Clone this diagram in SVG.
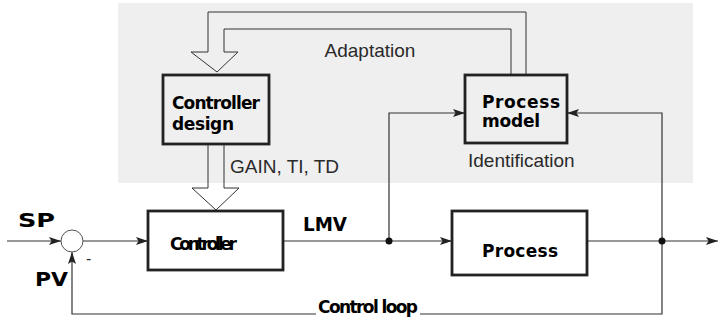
<svg xmlns="http://www.w3.org/2000/svg" width="719" height="320" viewBox="0 0 719 320">
<style>
.lbl{font-family:"Liberation Sans",Arial,sans-serif;font-size:19px;fill:#2a2a2a}
.bx{font-family:"DejaVu Sans",sans-serif;font-weight:bold;font-size:17px;fill:#000}
.box{fill:none;stroke:#222;stroke-width:2.8}
.ln{fill:none;stroke:#333;stroke-width:1.2}
.hol{fill:none;stroke:#333;stroke-width:1}
</style>
<defs>
<marker id="ah" viewBox="0 0 12 8" refX="12" refY="4" markerWidth="12" markerHeight="8" markerUnits="userSpaceOnUse" orient="auto">
<path d="M0,0 L12,4 L0,8 L2.5,4 z" fill="#222"/>
</marker>
</defs>
<rect x="118" y="3" width="575" height="180" fill="#efefef"/>
<g id="connectors">
<path class="hol" d="M526,74 V12 H208 V52 H191 L217,72 L238,52 H224 V29 H511 V74"/>
<path class="hol" d="M208,144 V188 H192 L216,210 L239,188 H224 V144"/>
<path class="ln" d="M7,241 H61" marker-end="url(#ah)"/>
<path class="ln" d="M83,241 H148" marker-end="url(#ah)"/>
<path class="ln" d="M283,241 H452" marker-end="url(#ah)"/>
<path class="ln" d="M587,241 H718" marker-end="url(#ah)"/>
<path class="ln" d="M389,241 V113 H465" marker-end="url(#ah)"/>
<path class="ln" d="M662,241 V113 H567" marker-end="url(#ah)"/>
<path class="ln" d="M662,241 V314 H420"/>
<path class="ln" d="M316,314 H72 V252" marker-end="url(#ah)"/>
<circle cx="389" cy="241" r="3.5" fill="#111"/>
<circle cx="662" cy="241" r="3.5" fill="#111"/>
</g>
<g id="sum">
<circle cx="72" cy="241" r="11" fill="#fff" stroke="#555" stroke-width="1"/>
<text class="lbl" x="86" y="264" style="font-size:16px">-</text>
</g>
<g id="controller-design">
<rect class="box" x="163" y="75" width="106" height="69" fill="none"/>
<text class="bx" x="172" y="109" textLength="88" lengthAdjust="spacing">Controller</text>
<text class="bx" x="172" y="130" textLength="62" lengthAdjust="spacing">design</text>
</g>
<g id="process-model">
<rect class="box" x="465" y="75" width="102" height="68"/>
<text class="bx" x="482" y="108" textLength="78" lengthAdjust="spacing">Process</text>
<text class="bx" x="482" y="127" textLength="58" lengthAdjust="spacing">model</text>
</g>
<g id="controller">
<rect class="box" x="148" y="211" width="135" height="59" fill="#fff"/>
<text class="bx" x="170" y="250" textLength="67" lengthAdjust="spacing">Controller</text>
</g>
<g id="process">
<rect class="box" x="452" y="211" width="135" height="64" fill="#fff"/>
<text class="bx" x="482" y="257" textLength="76" lengthAdjust="spacing">Process</text>
</g>
<g id="labels">
<text class="lbl" x="370" y="57" text-anchor="middle">Adaptation</text>
<text class="lbl" x="230" y="173">GAIN, TI, TD</text>
<text class="lbl" x="468" y="167">Identification</text>
<text class="bx" x="18" y="227" style="font-size:20px" textLength="37" lengthAdjust="spacingAndGlyphs">SP</text>
<text class="bx" x="35" y="286" style="font-size:19px" textLength="33" lengthAdjust="spacingAndGlyphs">PV</text>
<text class="bx" x="303" y="231" style="font-size:19px" textLength="44" lengthAdjust="spacingAndGlyphs">LMV</text>
<text class="bx" x="318" y="313" textLength="100" lengthAdjust="spacing">Control loop</text>
</g>
</svg>
